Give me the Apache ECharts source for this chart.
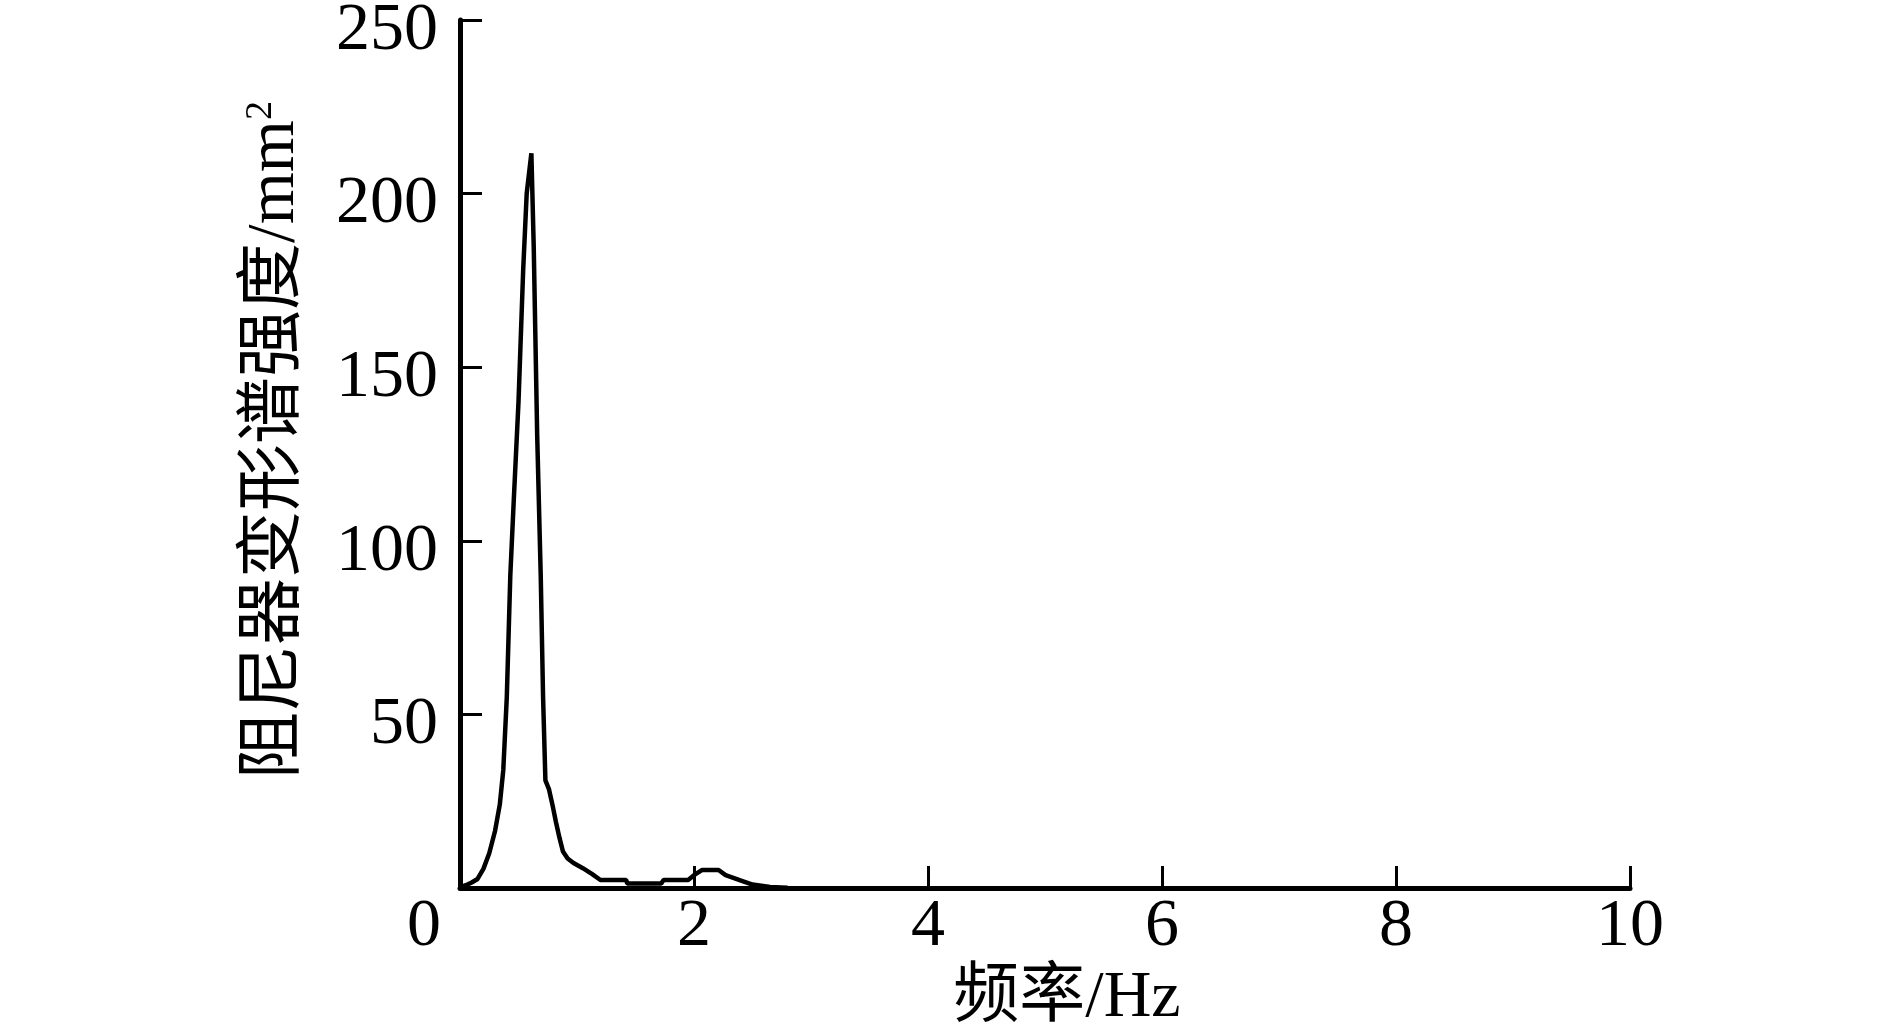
<!DOCTYPE html>
<html>
<head>
<meta charset="utf-8">
<title>阻尼器变形谱强度</title>
<script src="https://cdn.jsdelivr.net/npm/echarts@6/dist/echarts.min.js"></script>
<style>
  html, body { margin: 0; padding: 0; background: #fff; }
  #main { width: 1890px; height: 1034px; }
</style>
</head>
<body>
<div id="main"></div>
<script>
// 频率 (Hz) 与谱强度 (mm^2)
const freq = [0.00, 0.05, 0.10, 0.15, 0.20, 0.25, 0.30, 0.34, 0.37, 0.40, 0.43, 0.46, 0.50, 0.54, 0.57, 0.61,
  0.63, 0.66, 0.69, 0.71, 0.73, 0.76, 0.79, 0.82, 0.85, 0.88, 0.92, 0.97, 1.05, 1.13, 1.20,
  1.42, 1.43, 1.72, 1.74, 1.95, 2.00, 2.07, 2.21, 2.27, 2.39, 2.50, 2.65, 2.80];
const psd = [0.2, 0.8, 1.6, 2.6, 5.5, 10, 16.5, 24, 34, 55, 90, 112, 140, 178, 200, 211.6,
  185, 130, 90, 55, 31, 28.5, 24, 19, 14.5, 10.5, 8.5, 7.2, 5.7, 4.0, 2.3,
  2.3, 1.3, 1.3, 2.3, 2.3, 3.7, 5.2, 5.2, 3.7, 2.3, 1.0, 0.3, 0.1];

const xTicks = [0, 2, 4, 6, 8, 10];
const yTicks = [0, 50, 100, 150, 200, 250];

const serif = '"Liberation Serif", "Times New Roman", "Noto Sans CJK SC", serif';

const chart = echarts.init(document.getElementById('main'));

chart.setOption({
  backgroundColor: '#fff',
  animation: false,
  grid: { left: 460, right: 260, top: 20, bottom: 146, outerBoundsMode: 'none', containLabel: false },
  xAxis: {
    type: 'value',
    min: xTicks[0],
    max: xTicks[xTicks.length - 1],
    interval: 2,
    name: '频率/Hz',
    nameLocation: 'middle',
    nameGap: 52,
    nameTextStyle: { color: '#000', fontSize: 66, fontFamily: serif, padding: [0, 0, 0, 44] },
    axisLine: { lineStyle: { color: '#000', width: 5 } },
    axisTick: { inside: true, length: 22, lineStyle: { color: '#000', width: 3 } },
    splitLine: { show: false },
    axisLabel: {
      color: '#000',
      fontSize: 68,
      fontFamily: serif,
      margin: 5,
      formatter: v => v === 0 ? '{z|0}' : String(v),
      rich: {
        z: { color: '#000', fontSize: 68, fontFamily: serif, padding: [0, 72, 0, 0] }
      }
    }
  },
  yAxis: {
    type: 'value',
    min: yTicks[0],
    max: yTicks[yTicks.length - 1],
    interval: 50,
    name: '阻尼器变形谱强度/mm{sup|2}',
    nameLocation: 'middle',
    nameGap: 151,
    nameTextStyle: {
      color: '#000', fontSize: 67, fontFamily: serif, padding: [0, 0, 0, 28],
      rich: {
        sup: { color: '#000', fontSize: 38, fontFamily: serif, verticalAlign: 'top' }
      }
    },
    axisLine: { lineStyle: { color: '#000', width: 5 } },
    axisTick: { inside: true, length: 22, lineStyle: { color: '#000', width: 3 } },
    splitLine: { show: false },
    axisLabel: {
      color: '#000',
      fontSize: 68,
      fontFamily: serif,
      margin: 22,
      verticalAlign: 'top',
      lineHeight: 22,
      formatter: v => v === 0 ? '' : String(v)
    }
  },
  series: [{
    type: 'line',
    data: freq.map((f, i) => [f, psd[i]]),
    showSymbol: false,
    smooth: false,
    lineStyle: { color: '#000', width: 4.5 },
    z: 3
  }]
});
</script>
</body>
</html>
